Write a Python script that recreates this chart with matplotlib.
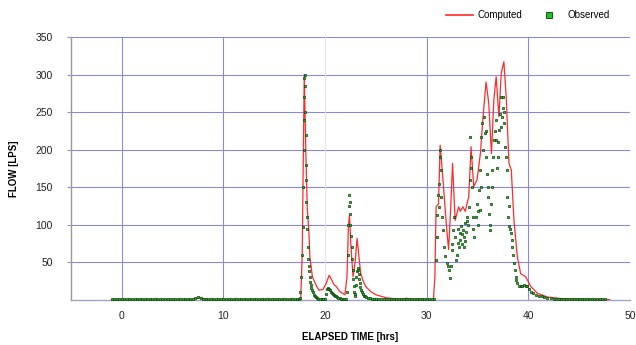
import numpy as np
import matplotlib.pyplot as plt
from matplotlib.lines import Line2D

plt.rcParams['font.family'] = ['Liberation Sans', 'DejaVu Sans']

# computed flow (line)
comp_time = [-1.0, 7.0, 7.5, 8.0, 8.5, 17.6, 17.75, 17.95, 18.1, 18.25, 18.4, 18.5, 18.75,
             19.1, 19.4, 19.8, 20.1, 20.4, 20.6, 20.9, 21.1, 21.4, 21.7, 21.95, 22.15, 22.3,
             22.4, 22.55, 22.75, 22.95, 23.15, 23.35, 23.5, 23.75, 24.0, 24.5, 25.0, 26.0,
             27.0, 27.7, 28.0, 28.3, 30.5, 30.66, 30.8, 30.92, 31.16, 31.32, 31.45, 31.65,
             31.9, 32.15, 32.35, 32.54, 32.68, 32.8, 33.14, 33.3, 33.56, 33.8, 33.96, 34.13,
             34.36, 34.62, 34.95, 35.28, 35.54, 35.84, 36.1, 36.37, 36.6, 36.83, 37.1, 37.33,
             37.59, 37.82, 38.09, 38.32, 38.58, 38.91, 39.24, 39.74, 40.23, 40.89, 41.88,
             43.2, 45.0, 48.0]
comp_flow = [0.5, 0.5, 3, 2, 0.5, 0.5, 60, 300, 200, 120, 93, 58, 31,
             20, 13, 14, 22, 33, 28, 20, 18, 12, 9, 7, 30, 100,
             113, 70, 31, 50, 82, 55, 36, 25, 18, 11, 7, 3,
             1.5, 1, 2.5, 1, 0.5, 1, 30, 124, 128, 206, 185, 151,
             105, 67, 120, 182, 140, 106, 124, 118, 124, 118, 128, 137,
             204, 151, 160, 195, 244, 290, 262, 195, 266, 297, 244, 302,
             317, 270, 182, 173, 106, 58, 35, 31, 18, 9, 4,
             2, 1, 0.5]

# observed flow (markers): quiet stretches sampled every 15 min
base1_time = np.arange(-1.0, 17.3, 0.25)
base1_flow = [1, 1, 1, 1, 1, 1, 1, 1, 1, 1, 1, 1, 1, 1, 1, 1,
              1, 1, 1, 1, 1, 1, 1, 1, 1, 1, 1, 1, 1, 1, 1, 1,
              1.5, 3, 4, 3, 2, 1.5,
              1, 1, 1, 1, 1, 1, 1, 1, 1, 1, 1, 1, 1, 1, 1, 1, 1, 1,
              1, 1, 1, 1, 1, 1, 1, 1, 1, 1, 1, 1, 1, 1, 1, 1, 1, 1]
base2_time = np.arange(25.25, 30.8, 0.25)
base2_flow = [1.5, 1.5, 1.2, 1.2, 1, 1, 1, 1, 1, 1, 1, 1,
              1, 1, 1, 1, 1, 1, 1, 1, 1, 1, 1]
base3_time = np.arange(42.75, 47.6, 0.25)
base3_flow = [2, 2, 1.8, 1.5, 1.5, 1.3, 1.2, 1.2, 1, 1,
              1, 1, 1, 1, 1, 1, 1, 1, 1, 1]

# observed flow during the storm events
event_time = [17.4, 17.5, 17.55, 17.65, 17.75, 17.8, 17.85, 17.9, 17.92, 17.95, 17.97, 18.0,
              18.02, 18.05, 18.08, 18.1, 18.12, 18.15, 18.2, 18.25, 18.3, 18.35, 18.4, 18.45,
              18.5, 18.55, 18.6, 18.65, 18.7, 18.8, 18.9, 19.0, 19.1, 19.2, 19.35, 19.5, 19.65,
              19.8, 19.95, 20.1, 20.2, 20.3, 20.4, 20.5, 20.6, 20.7, 20.8, 20.9, 21.0, 21.1,
              21.2, 21.3, 21.45, 21.6, 21.75, 21.9, 22.05,
              22.15, 22.25, 22.3, 22.35, 22.4, 22.42, 22.45, 22.5, 22.55, 22.6, 22.65, 22.7,
              22.75, 22.8, 22.85, 22.9, 22.95, 23.0, 23.05, 23.1, 23.2, 23.25, 23.3, 23.35,
              23.4, 23.45, 23.5, 23.6, 23.7, 23.8, 23.9, 24.0, 24.2, 24.4, 24.6, 24.8, 25.0,
              30.92, 30.99, 31.02, 31.16, 31.25, 31.32, 31.39, 31.42, 31.49, 31.58, 31.72,
              31.82, 31.98, 32.15, 32.31, 32.4, 32.48, 32.57, 32.64, 32.74, 32.9, 33.04,
              33.15, 33.23, 33.3, 33.37, 33.45, 33.56, 33.63, 33.7, 33.8, 33.88, 33.96,
              34.05, 34.13, 34.22, 34.29, 34.36, 34.46, 34.55, 34.69, 34.82, 34.95, 35.05,
              35.12, 35.2, 35.28, 35.38, 35.48, 35.61, 35.71, 35.84, 35.94, 36.07, 36.17,
              36.27, 36.37, 36.47, 36.6, 36.77, 36.86, 37.0, 37.1, 37.19, 37.26, 37.36,
              37.46, 37.59, 37.72, 37.85, 37.92, 38.02, 38.12, 38.25, 38.42, 38.58, 38.75,
              38.91, 39.05, 39.24, 39.4, 39.57, 39.75, 39.9, 40.05, 40.23, 40.45, 40.73,
              41.0, 41.3, 41.55, 41.85, 42.2, 42.54,
              # extra scatter inside the main event
              31.1, 31.35, 32.05, 32.52, 32.95, 33.1, 33.5, 33.75, 34.0, 34.4, 34.6, 35.0,
              35.35, 35.55, 35.8, 36.0, 36.2, 36.42, 36.55, 36.7, 36.95, 37.05, 37.3, 37.5,
              37.65, 37.8, 38.05, 38.18, 38.35, 38.5, 38.68, 38.83]
event_flow = [1, 3, 11, 30, 60, 97, 150, 200, 240, 270, 295, 300,
              285, 250, 220, 180, 160, 130, 110, 95, 70, 55, 45, 38,
              30, 24, 20, 16, 13, 10, 7, 5, 4, 3, 2, 2, 1.5,
              1.5, 1.5, 8, 14, 16, 15, 13, 11, 9, 8, 7, 6, 5,
              4, 3, 2.5, 2, 1.5, 1.5, 2,
              10, 60, 100, 125, 140, 130, 115, 100, 85, 70, 55, 40,
              28, 18, 10, 6, 8, 20, 30, 38, 43, 40, 35, 28,
              22, 17, 13, 10, 8, 6, 5, 4, 3, 2.5, 2, 1.5, 1.5,
              53, 84, 113, 124, 155, 190, 173, 137, 111, 93, 71,
              58, 49, 40, 29, 45, 67, 93, 111, 84, 53, 76,
              70, 89, 80, 98, 75, 93, 84, 70, 102, 90, 111,
              100, 124, 160, 217, 190, 151, 111, 84, 111, 128, 100,
              146, 120, 173, 217, 235, 244, 222, 190, 168, 137, 115,
              93, 128, 173, 213, 239, 213, 190, 226, 248, 270, 244,
              270, 235, 204, 173, 137, 111, 98, 89, 71, 49, 31,
              22, 19, 18, 19, 20, 19, 18, 15, 11, 9, 7,
              6, 5, 4, 3, 2.5, 2,
              140, 200, 45, 75, 60, 95, 88, 78, 105, 175, 95, 118,
              150, 200, 225, 150, 100, 150, 190, 225, 175, 210, 230, 255,
              250, 190, 125, 95, 80, 60, 40, 27]

n1, n2 = 57, 94
obs_time = np.concatenate([base1_time, event_time[:n1], event_time[n1:n2],
                           base2_time, event_time[n2:], base3_time])
obs_flow = np.concatenate([base1_flow, event_flow[:n1], event_flow[n1:n2],
                           base2_flow, event_flow[n2:], base3_flow])

fig = plt.figure(figsize=(6.36, 3.45), dpi=100)
ax = fig.add_axes([0.1116, 0.1304, 0.8790, 0.7624])

ax.plot(comp_time, comp_flow, color='#ff2a2a', lw=0.9, zorder=3)
ax.plot(obs_time, obs_flow, ls='none', marker='s', ms=2.1, mfc='#1fc21f',
        mec='#0b3d0b', mew=0.5, zorder=4)

ax.set_xlim(-5, 50)
ax.set_ylim(0, 350)
ax.set_xticks([0, 10, 20, 30, 40, 50])
ax.set_yticks([50, 100, 150, 200, 250, 300, 350])

grid_col = '#8585f5'
for y in [50, 100, 150, 200, 250, 300, 350]:
    ax.axhline(y, color=grid_col, lw=0.75, zorder=1)
for x in [0, 10, 30, 40]:
    ax.axvline(x, color=grid_col, lw=0.75, zorder=1)
ax.axvline(20, color='#e0e0f8', lw=0.8, zorder=1)

for s in ['top', 'right']:
    ax.spines[s].set_visible(False)
ax.spines['left'].set_color('#999999')
ax.spines['left'].set_linewidth(1.0)
ax.spines['bottom'].set_color('#a0a0c8')
ax.spines['bottom'].set_linewidth(1.0)

ax.tick_params(axis='y', length=3, color='#999999', labelsize=7.5, pad=10, labelcolor='#222222')
ax.tick_params(axis='x', length=0, labelsize=7.5, pad=8, labelcolor='#222222')

ax.set_xlabel('ELAPSED TIME [hrs]', fontsize=7, fontweight='bold', labelpad=8)
ax.set_ylabel('FLOW [LPS]', fontsize=7, fontweight='bold', labelpad=12)

handles = [Line2D([], [], color='#ff2a2a', lw=1.2),
           Line2D([], [], ls='none', marker='s', ms=4, mfc='#1fc21f', mec='#0b3d0b', mew=0.6)]
fig.legend(handles, ['Computed', 'Observed'], loc='upper right', bbox_to_anchor=(0.972, 0.995),
           ncol=2, frameon=False, fontsize=7, handlelength=2.8, columnspacing=1.3,
           handletextpad=0.5)

fig.savefig('out.png', dpi=100)
